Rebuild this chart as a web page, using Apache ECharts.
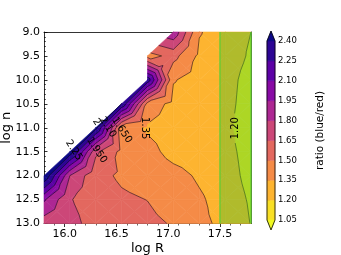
<!DOCTYPE html>
<html><head><meta charset="utf-8">
<script src="https://cdn.jsdelivr.net/npm/echarts@6/dist/echarts.min.js"></script>
<style>html,body{margin:0;padding:0;background:#fff}#c{width:341px;height:255px}</style>
</head><body><div id="c"></div>
<script>
// ---- data grid: columns = log R, rows = log n ; null = no data ----
const logR = [15.8, 16.05, 16.3, 16.55, 16.8, 17.05, 17.3, 17.55, 17.8];
const logN = [9.0, 9.5, 10.0, 10.5, 11.0, 11.5, 12.0, 12.5, 13.0];
const ratio_n09_0 = [null, null, null, null, null, 1.92, 1.36, 1.28, 1.20];
const ratio_n09_5 = [null, null, null, null, 1.44, 1.55, 1.32, 1.28, 1.18];
const ratio_n10_0 = [null, null, null, null, 2.35, 1.36, 1.29, 1.26, 1.14];
const ratio_n10_5 = [null, null, null, 2.40, 1.45, 1.30, 1.28, 1.25, 1.13];
const ratio_n11_0 = [null, null, 2.45, 1.42, 1.33, 1.28, 1.26, 1.24, 1.11];
const ratio_n11_5 = [null, 2.50, 1.68, 1.46, 1.40, 1.30, 1.27, 1.25, 1.14];
const ratio_n12_0 = [2.55, 1.80, 1.54, 1.48, 1.45, 1.40, 1.33, 1.27, 1.15];
const ratio_n12_5 = [1.97, 1.66, 1.57, 1.52, 1.498, 1.44, 1.37, 1.29, 1.18];
const ratio_n13_0 = [1.72, 1.70, 1.59, 1.56, 1.53, 1.49, 1.38, 1.32, 1.195];
const levels = [1.05, 1.20, 1.35, 1.50, 1.65, 1.80, 1.95, 2.10, 2.25, 2.40];
const bandColors = ['#f8df25', '#fdb430', '#f58b47', '#e3685f', '#cc4778', '#ad2793', '#880aa5', '#5c01a6', '#2c0594'];
const underColor = '#f0f921';
const overColor = '#0d0887';
const xMajorTicks = [16.0, 16.5, 17.0, 17.5];
const xMinorTicks = [15.9, 16.1, 16.2, 16.3, 16.4, 16.6, 16.7, 16.8, 16.9, 17.1, 17.2, 17.3, 17.4, 17.6, 17.7];
const spanRange = [17.5, 17.8];
// contour labels: text, log R, log n, rotation (deg), level whose line is broken
const labelText = ['1.35', '1.20', '2', '2.10', '1.650', '2.25', '1.950'];
const labelR = [16.775, 17.646, 16.307, 16.417, 16.552, 16.088, 16.31];
const labelN = [11.01, 11.01, 10.88, 10.99, 11.05, 11.47, 11.47];
const labelRot = [-90, 90, -57, -57, -57, -57, -57];
const labelLevel = [1.35, 1.20, null, null, null, null, null];

const rowsByN = [ratio_n09_0, ratio_n09_5, ratio_n10_0, ratio_n10_5, ratio_n11_0, ratio_n11_5, ratio_n12_0, ratio_n12_5, ratio_n13_0];
const FONT = 'DejaVu Sans';
const bandLo = [-Infinity].concat(levels);
const bandHi = levels.concat([Infinity]);
const bandFill = [underColor].concat(bandColors, [overColor]);

const cells = [];
for (let j = 0; j < logN.length - 1; j++)
  for (let i = 0; i < logR.length - 1; i++)
    cells.push([logR[i], logN[j], logR[i + 1], logN[j + 1], i, j]);

function trianglesFor(api, i, j) {
  const pts = [[i, j], [i + 1, j], [i + 1, j + 1], [i, j + 1]].map(([a, b]) => {
    const v = rowsByN[b][a];
    if (v == null) return null;
    const p = api.coord([logR[a], logN[b]]);
    return [p[0], p[1], v];
  });
  const valid = pts.filter(p => p);
  if (valid.length === 4) {
    const c = [0, 1, 2].map(k => (pts[0][k] + pts[1][k] + pts[2][k] + pts[3][k]) / 4);
    return [[pts[0], pts[1], c], [pts[1], pts[2], c], [pts[2], pts[3], c], [pts[3], pts[0], c]];
  }
  if (valid.length === 3) return [valid];
  return [];
}
function clipHalf(poly, inside, L) {
  const res = [];
  for (let k = 0; k < poly.length; k++) {
    const a = poly[k], b = poly[(k + 1) % poly.length];
    const ia = inside(a[2]), ib = inside(b[2]);
    if (ia) res.push(a);
    if (ia !== ib) {
      const t = (L - a[2]) / (b[2] - a[2]);
      res.push([a[0] + t * (b[0] - a[0]), a[1] + t * (b[1] - a[1]), L]);
    }
  }
  return res;
}
function clipBand(poly, lo, hi) {
  let out = poly;
  if (lo !== -Infinity) out = clipHalf(out, v => v >= lo, lo);
  if (out.length >= 3 && hi !== Infinity) out = clipHalf(out, v => v <= hi, hi);
  return out;
}
function labelBoxes(api) {
  return labelText.map((t, k) => {
    const p = api.coord([labelR[k], labelN[k]]);
    return { cx: p[0], cy: p[1], a: labelRot[k] * Math.PI / 180, hw: t.length * 3.2 + 2, hh: 5, level: labelLevel[k] };
  });
}
function cutSegment(seg, box) {
  const ca = Math.cos(box.a), sa = Math.sin(box.a);
  const loc = p => { const dx = p[0] - box.cx, dy = p[1] - box.cy; return [dx * ca - dy * sa, dx * sa + dy * ca]; };
  const A = loc(seg[0]), B = loc(seg[1]);
  let t0 = 0, t1 = 1;
  const d = [B[0] - A[0], B[1] - A[1]];
  const pq = [[-d[0], A[0] + box.hw], [d[0], box.hw - A[0]], [-d[1], A[1] + box.hh], [d[1], box.hh - A[1]]];
  for (const [p, q] of pq) {
    if (p === 0) { if (q < 0) return [seg]; }
    else { const r = q / p; if (p < 0) { if (r > t1) return [seg]; if (r > t0) t0 = r; } else { if (r < t0) return [seg]; if (r < t1) t1 = r; } }
  }
  const at = t => [seg[0][0] + t * (seg[1][0] - seg[0][0]), seg[0][1] + t * (seg[1][1] - seg[0][1])];
  const out = [];
  if (t0 > 0) out.push([seg[0], at(t0)]);
  if (t1 < 1) out.push([at(t1), seg[1]]);
  return out;
}

const chart = echarts.init(document.getElementById('c'), null, { renderer: 'canvas' });
chart.setOption({
  animation: false,
  backgroundColor: '#fff',
  grid: [
    { left: 44, top: 32, width: 207, height: 191.5, outerBoundsMode: 'none', containLabel: false },
    { left: 267, top: 41, width: 8, height: 179, outerBoundsMode: 'none', containLabel: false }
  ],
  xAxis: [
    { type: 'value', gridIndex: 0, min: 15.8, max: 17.8, position: 'bottom',
      name: 'log R', nameLocation: 'middle', nameGap: 19, nameMoveOverlap: false,
      nameTextStyle: { fontFamily: FONT, fontSize: 13, color: '#000' },
      axisLine: { show: true, onZero: false, lineStyle: { color: '#000', width: 0.8 } },
      axisTick: { show: true, inside: false, length: 3.5, customValues: xMajorTicks, lineStyle: { color: '#000', width: 0.8 } },
      axisLabel: { show: true, customValues: xMajorTicks, formatter: v => v.toFixed(1), fontFamily: FONT, fontSize: 11, color: '#000', margin: 5 },
      splitLine: { show: false } },
    { type: 'value', gridIndex: 0, min: 15.8, max: 17.8, position: 'bottom',
      axisLine: { show: false }, axisLabel: { show: false }, splitLine: { show: false },
      axisTick: { show: true, inside: false, length: 2, customValues: xMinorTicks, lineStyle: { color: '#000', width: 0.6 } } },
    { type: 'value', gridIndex: 0, min: 15.8, max: 17.8, position: 'top',
      axisLine: { show: true, onZero: false, lineStyle: { color: '#000', width: 0.8 } },
      axisTick: { show: false }, axisLabel: { show: false }, splitLine: { show: false } },
    { type: 'value', gridIndex: 1, min: 0, max: 1, show: false }
  ],
  yAxis: [
    { type: 'value', gridIndex: 0, min: 9, max: 13, interval: 0.5, inverse: true,
      name: 'log n', nameLocation: 'middle', nameGap: 31, nameRotate: 90, nameMoveOverlap: false,
      nameTextStyle: { fontFamily: FONT, fontSize: 13, color: '#000' },
      axisLine: { show: true, onZero: false, lineStyle: { color: '#000', width: 0.8 } },
      axisTick: { show: true, inside: true, length: 3.5, lineStyle: { color: '#000', width: 0.8 } },
      minorTick: { show: true, splitNumber: 5, length: 2, lineStyle: { color: '#000', width: 0.6 } },
      axisLabel: { formatter: v => v.toFixed(1), fontFamily: FONT, fontSize: 11, color: '#000', margin: 4 },
      splitLine: { show: false } },
    { type: 'value', gridIndex: 0, min: 9, max: 13, inverse: true, position: 'right',
      axisLine: { show: true, onZero: false, lineStyle: { color: '#000', width: 0.8 } },
      axisTick: { show: false }, axisLabel: { show: false }, splitLine: { show: false } },
    { type: 'value', gridIndex: 1, min: 1.05, max: 2.40, position: 'right',
      name: 'ratio (blue/red)', nameLocation: 'middle', nameGap: 40, nameRotate: 90,
      nameTextStyle: { fontFamily: FONT, fontSize: 10.5, color: '#000' },
      axisLine: { show: false },
      axisTick: { show: true, inside: false, length: 3, customValues: levels, lineStyle: { color: '#000', width: 0.7 } },
      axisLabel: { show: true, customValues: levels, formatter: v => v.toFixed(2), fontFamily: FONT, fontSize: 8.5, color: '#000', margin: 3 },
      splitLine: { show: false } }
  ],
  series: [
    { type: 'custom', xAxisIndex: 0, yAxisIndex: 0, z: 1, silent: true,
      data: cells, encode: { x: [0, 2], y: [1, 3] },
      renderItem: (params, api) => {
        const tris = trianglesFor(api, api.value(4), api.value(5));
        const children = [];
        tris.forEach(t => {
          for (let b = 0; b < bandLo.length; b++) {
            const poly = clipBand(t, bandLo[b], bandHi[b]);
            if (poly.length >= 3) children.push({ type: 'polygon', shape: { points: poly.map(p => [p[0], p[1]]) },
              style: { fill: bandFill[b], stroke: bandFill[b], lineWidth: 0.6 } });
          }
        });
        return { type: 'group', children };
      } },
    { type: 'custom', xAxisIndex: 0, yAxisIndex: 0, z: 2, silent: true,
      data: cells, encode: { x: [0, 2], y: [1, 3] },
      renderItem: (params, api) => {
        const tris = trianglesFor(api, api.value(4), api.value(5));
        const boxes = labelBoxes(api);
        const children = [];
        tris.forEach(t => {
          levels.forEach(L => {
            const s = t.map(p => p[2] >= L);
            if (s[0] === s[1] && s[1] === s[2]) return;
            const pts = [];
            for (let k = 0; k < 3; k++) {
              const a = t[k], b = t[(k + 1) % 3];
              if (s[k] !== s[(k + 1) % 3]) {
                const tt = (L - a[2]) / (b[2] - a[2]);
                pts.push([a[0] + tt * (b[0] - a[0]), a[1] + tt * (b[1] - a[1])]);
              }
            }
            if (pts.length !== 2) return;
            let segs = [pts];
            boxes.forEach(bx => {
              if (bx.level === null || Math.abs(bx.level - L) > 1e-9) return;
              let nxt = [];
              segs.forEach(sg => { nxt = nxt.concat(cutSegment(sg, bx)); });
              segs = nxt;
            });
            segs.forEach(sg => children.push({ type: 'line',
              shape: { x1: sg[0][0], y1: sg[0][1], x2: sg[1][0], y2: sg[1][1] },
              style: { stroke: 'rgba(0,0,0,0.85)', lineWidth: 0.6 } }));
          });
        });
        return { type: 'group', children };
      } },
    { type: 'custom', xAxisIndex: 0, yAxisIndex: 0, z: 3, silent: true,
      data: [[spanRange[0], 9, spanRange[1], 13]], encode: { x: [0, 2], y: [1, 3] },
      renderItem: (params, api) => {
        const p0 = api.coord([api.value(0), api.value(1)]);
        const p1 = api.coord([api.value(2), api.value(3)]);
        return { type: 'group', children: [
          { type: 'rect', shape: { x: p0[0], y: p0[1], width: p1[0] - p0[0], height: p1[1] - p0[1] },
            style: { fill: 'rgba(50,200,40,0.38)' } },
          { type: 'line', shape: { x1: p0[0], y1: p0[1], x2: p0[0], y2: p1[1] }, style: { stroke: '#3fd23a', lineWidth: 1 } },
          { type: 'line', shape: { x1: p1[0], y1: p0[1], x2: p1[0], y2: p1[1] }, style: { stroke: '#3fd23a', lineWidth: 1 } }
        ] };
      } },
    { type: 'custom', xAxisIndex: 0, yAxisIndex: 0, z: 4, silent: true,
      data: labelText.map((t, k) => [labelR[k], labelN[k], k]),
      renderItem: (params, api) => {
        const k = api.value(2);
        const p = api.coord([api.value(0), api.value(1)]);
        return { type: 'text', x: p[0], y: p[1], rotation: labelRot[k] * Math.PI / 180,
          style: { text: labelText[k], x: 0, y: 0, align: 'center', verticalAlign: 'middle',
            font: '10px "' + FONT + '"', fill: '#000' } };
      } },
    { type: 'custom', xAxisIndex: 3, yAxisIndex: 2, z: 2, silent: true,
      data: levels.slice(0, -1).map((lv, k) => [0, lv, 1, levels[k + 1], k]).concat([[0, 2.40, 1, 2.475, 9], [0, 0.975, 1, 1.05, -1], [0, 0.975, 1, 2.475, 99]]),
      encode: { x: [0, 2], y: [1, 3] },
      renderItem: (params, api) => {
        const k = api.value(4);
        const x0 = api.coord([0, levels[0]])[0], x1 = api.coord([1, levels[0]])[0], xm = (x0 + x1) / 2;
        const yTop = api.coord([0, levels[levels.length - 1]])[1], yBot = api.coord([0, levels[0]])[1];
        const yTip = api.coord([0, 2.475])[1], yTipB = api.coord([0, 0.975])[1];
        if (k === 99) return { type: 'polygon', shape: { points: [[x0, yTop], [xm, yTip], [x1, yTop], [x1, yBot], [xm, yTipB], [x0, yBot]] },
          style: { fill: null, stroke: '#000', lineWidth: 0.8 } };
        if (k === 9) return { type: 'polygon', shape: { points: [[x0, yTop], [xm, yTip], [x1, yTop]] }, style: { fill: overColor, stroke: overColor, lineWidth: 0.5 } };
        if (k === -1) return { type: 'polygon', shape: { points: [[x0, yBot], [xm, yTipB], [x1, yBot]] }, style: { fill: underColor, stroke: underColor, lineWidth: 0.5 } };
        const p0 = api.coord([0, api.value(1)]), p1 = api.coord([1, api.value(3)]);
        return { type: 'rect', shape: { x: p0[0], y: p1[1], width: p1[0] - p0[0], height: p0[1] - p1[1] },
          style: { fill: bandColors[k], stroke: bandColors[k], lineWidth: 0.5 } };
      } }
  ]
});
</script>
</body></html>
